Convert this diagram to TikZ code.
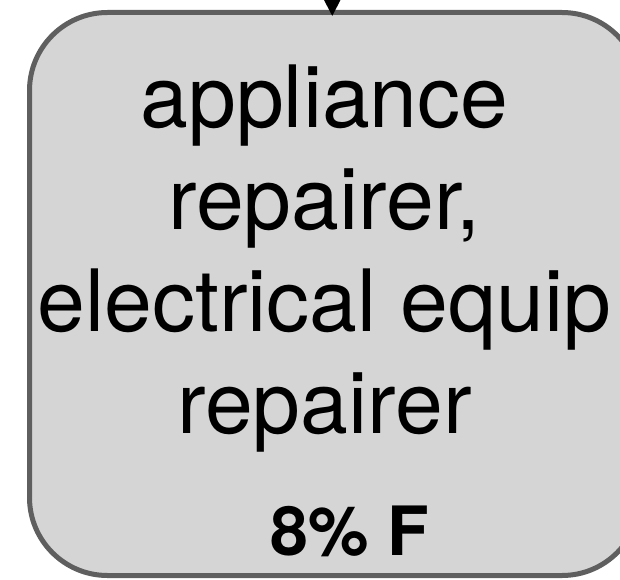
\documentclass[tikz,border=0pt]{standalone}
\usepackage{fontspec}
\setmainfont{TeX Gyre Heros}
\usepackage{xcolor}
\usetikzlibrary{positioning}
\usetikzlibrary{arrows.meta}

\definecolor{boxfill}{HTML}{D5D5D5}
\definecolor{boxline}{HTML}{5F5F5F}

\begin{document}
\begin{tikzpicture}[
                x=1pt, y=1pt,
                jobbox/.style={rectangle, rounded corners=78pt, draw=boxline, fill=boxfill, line width=5pt, minimum width=610.5pt, minimum height=563pt},
                jobtext/.style={align=center, font=\fontsize{86}{101.7}\selectfont},
                pcttext/.style={font=\fontsize{68}{80}\selectfont\bfseries}
            ]
            \useasboundingbox (0,0) rectangle (620,579);
            % Nodes
            \node[jobbox] (repair) at (334.75,285) {};
            \node[jobtext, anchor=base] (jobs) at (324.5,146) {appliance\\repairer,\\electrical equip\\repairer};
            \node[pcttext, anchor=base] (pct) at (350,24) {8\% F};
            \coordinate (parent) at (332.25,640);
            % Arrows
            \draw[-{Triangle[length=18pt,width=18pt]}, line width=2pt, shorten >=-6pt] (parent) -- (parent |- repair.north);

            \end{tikzpicture}
\end{document}
